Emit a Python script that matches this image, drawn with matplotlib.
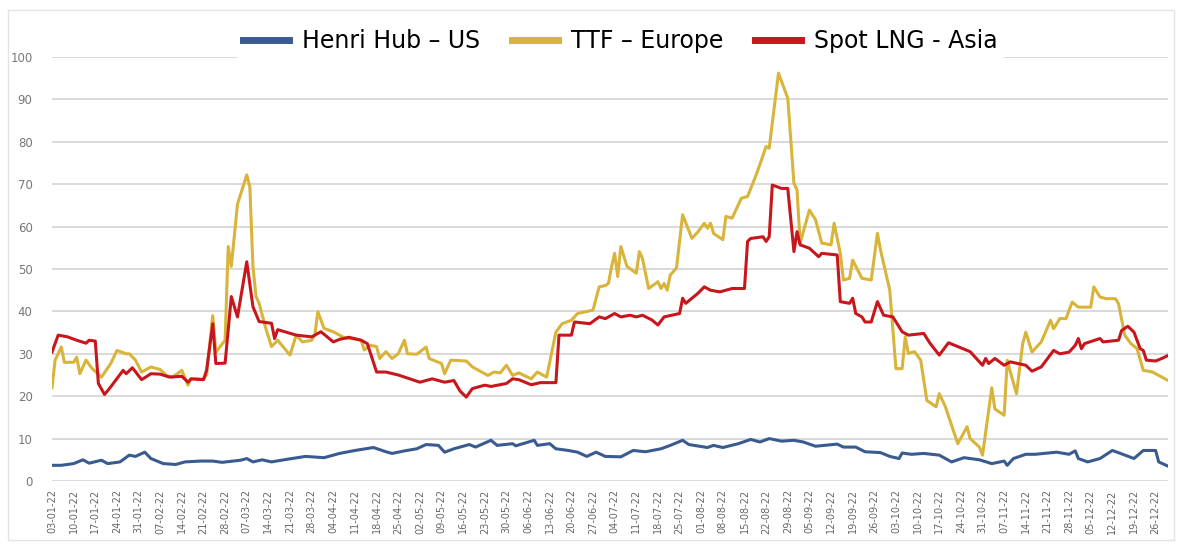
import pandas as pd
import matplotlib.pyplot as plt
import matplotlib.dates as mdates
from matplotlib.patches import Rectangle

# Henry Hub - US (USD/MMBtu)
hh_dates = ['01-03', '01-06', '01-10', '01-13', '01-15', '01-19', '01-21', '01-25', '01-28', '01-30',
            '02-02', '02-04', '02-08', '02-12', '02-15', '02-20', '02-24', '02-27', '03-05', '03-07',
            '03-09', '03-12', '03-15', '03-19', '03-26', '04-01', '04-06', '04-11', '04-17', '04-21',
            '04-23', '04-27', '05-01', '05-04', '05-08', '05-10', '05-13', '05-18', '05-20', '05-25',
            '05-27', '06-01', '06-02', '06-08', '06-09', '06-13', '06-15', '06-19', '06-22', '06-25',
            '06-28', '07-01', '07-06', '07-10', '07-14', '07-19', '07-22', '07-26', '07-28', '08-03',
            '08-05', '08-08', '08-13', '08-17', '08-20', '08-23', '08-27', '08-31', '09-03', '09-07',
            '09-14', '09-16', '09-20', '09-23', '09-28', '10-01', '10-04', '10-05', '10-08', '10-12',
            '10-17', '10-21', '10-25', '10-30', '11-03', '11-07', '11-08', '11-10', '11-14', '11-17',
            '11-24', '11-28', '11-30', '12-01', '12-04', '12-08', '12-12', '12-15', '12-19', '12-22',
            '12-26', '12-27', '12-30']
hh_values = [3.7, 3.7, 4.1, 5.0, 4.2, 4.9, 4.1, 4.5, 6.1, 5.8,
             6.8, 5.3, 4.1, 3.9, 4.5, 4.7, 4.7, 4.4, 4.9, 5.3,
             4.5, 5.0, 4.5, 5.0, 5.8, 5.5, 6.5, 7.2, 7.9, 6.9,
             6.5, 7.1, 7.6, 8.6, 8.4, 6.8, 7.6, 8.6, 8.0, 9.6,
             8.4, 8.8, 8.3, 9.6, 8.4, 8.8, 7.6, 7.2, 6.8, 5.8,
             6.8, 5.8, 5.7, 7.2, 6.9, 7.6, 8.4, 9.6, 8.6, 7.9,
             8.4, 7.9, 8.8, 9.8, 9.2, 10.0, 9.4, 9.6, 9.2, 8.2,
             8.7, 8.0, 8.0, 6.9, 6.7, 5.8, 5.3, 6.6, 6.3, 6.5,
             6.1, 4.5, 5.5, 5.0, 4.1, 4.7, 3.7, 5.3, 6.3, 6.3,
             6.8, 6.3, 7.1, 5.3, 4.5, 5.3, 7.2, 6.4, 5.3, 7.2,
             7.2, 4.5, 3.5]

# TTF - Europe
ttf_dates = ['01-03', '01-04', '01-06', '01-07', '01-10', '01-11', '01-12', '01-14', '01-16', '01-19',
             '01-22', '01-24', '01-27', '01-28', '01-30', '02-01', '02-04', '02-07', '02-09', '02-11',
             '02-14', '02-16', '02-17', '02-21', '02-22', '02-24', '02-25', '02-28', '03-01', '03-02',
             '03-04', '03-07', '03-08', '03-09', '03-10', '03-11', '03-13', '03-15', '03-17', '03-21',
             '03-23', '03-25', '03-28', '03-29', '03-30', '04-01', '04-04', '04-06', '04-08', '04-10',
             '04-13', '04-14', '04-16', '04-18', '04-19', '04-21', '04-23', '04-25', '04-27', '04-28',
             '05-01', '05-04', '05-05', '05-09', '05-10', '05-12', '05-17', '05-19', '05-24', '05-26',
             '05-28', '05-30', '06-01', '06-03', '06-07', '06-09', '06-12', '06-15', '06-17', '06-20',
             '06-22', '06-27', '06-29', '07-01', '07-02', '07-03', '07-04', '07-05', '07-06', '07-08',
             '07-11', '07-12', '07-13', '07-15', '07-18', '07-19', '07-20', '07-21', '07-22', '07-24',
             '07-26', '07-29', '07-31', '08-02', '08-03', '08-04', '08-05', '08-08', '08-09', '08-11',
             '08-14', '08-16', '08-19', '08-22', '08-23', '08-26', '08-29', '08-31', '09-01', '09-02',
             '09-05', '09-07', '09-09', '09-12', '09-13', '09-15', '09-16', '09-18', '09-19', '09-22',
             '09-25', '09-27', '09-28', '10-01', '10-03', '10-05', '10-06', '10-07', '10-09', '10-11',
             '10-13', '10-16', '10-17', '10-19', '10-23', '10-26', '10-27', '10-30', '10-31', '11-03',
             '11-04', '11-07', '11-08', '11-09', '11-11', '11-13', '11-14', '11-16', '11-19', '11-22',
             '11-23', '11-25', '11-27', '11-29', '12-01', '12-05', '12-06', '12-08', '12-10', '12-13',
             '12-14', '12-16', '12-18', '12-20', '12-22', '12-25', '12-27', '12-30']
ttf_values = [22.0, 28.5, 31.6, 28.0, 28.0, 29.2, 25.3, 28.5, 26.5, 24.5,
              27.7, 30.8, 30.0, 30.0, 28.5, 25.7, 26.9, 26.3, 24.9, 24.5,
              26.1, 22.6, 24.1, 24.0, 25.0, 39.0, 30.4, 33.2, 55.3, 50.6,
              65.3, 72.2, 69.4, 50.6, 43.5, 41.9, 36.4, 31.7, 33.2, 29.7,
              34.4, 32.8, 33.2, 34.4, 39.9, 36.0, 35.2, 34.4, 33.6, 33.6,
              33.2, 30.9, 32.0, 31.7, 28.9, 30.5, 28.9, 30.0, 33.2, 30.0,
              29.9, 31.6, 28.9, 27.7, 25.3, 28.5, 28.3, 26.9, 24.9, 25.7,
              25.5, 27.3, 24.9, 25.5, 24.1, 25.7, 24.5, 35.1, 37.1, 37.9,
              39.5, 40.3, 45.8, 46.1, 46.6, 50.5, 53.7, 48.2, 55.3, 50.6,
              49.0, 54.1, 52.5, 45.4, 47.0, 45.4, 46.6, 45.0, 48.6, 50.2,
              62.8, 57.2, 58.8, 60.8, 59.6, 60.8, 58.4, 56.9, 62.4, 62.0,
              66.7, 67.1, 72.6, 78.9, 78.5, 96.2, 90.3, 70.2, 68.7, 56.1,
              63.9, 61.6, 56.1, 55.7, 60.8, 53.7, 47.4, 47.8, 52.1, 47.8,
              47.4, 58.4, 54.5, 45.0, 26.5, 26.5, 34.0, 30.1, 30.5, 28.5,
              19.0, 17.5, 20.6, 17.5, 8.8, 12.8, 10.0, 8.0, 6.1, 22.0,
              17.0, 15.5, 28.5, 25.7, 20.6, 32.4, 35.1, 30.4, 32.8, 37.9,
              35.9, 38.3, 38.3, 42.2, 41.0, 41.0, 45.8, 43.4, 43.0, 43.0,
              41.8, 34.4, 32.4, 31.2, 26.1, 25.7, 24.9, 23.7]

# Spot LNG - Asia
lng_dates = ['01-03', '01-05', '01-08', '01-11', '01-14', '01-15', '01-17', '01-18', '01-20', '01-22',
             '01-26', '01-27', '01-29', '02-01', '02-04', '02-07', '02-10', '02-14', '02-16', '02-17',
             '02-21', '02-22', '02-24', '02-25', '02-28', '03-02', '03-04', '03-07', '03-09', '03-11',
             '03-15', '03-16', '03-17', '03-23', '03-28', '03-31', '04-04', '04-06', '04-09', '04-13',
             '04-15', '04-18', '04-21', '04-25', '04-30', '05-02', '05-06', '05-10', '05-13', '05-15',
             '05-17', '05-19', '05-23', '05-25', '05-30', '06-01', '06-03', '06-07', '06-10', '06-15',
             '06-16', '06-20', '06-21', '06-26', '06-29', '07-01', '07-04', '07-06', '07-09', '07-11',
             '07-13', '07-16', '07-18', '07-20', '07-25', '07-26', '07-27', '07-31', '08-02', '08-04',
             '08-07', '08-11', '08-15', '08-16', '08-17', '08-21', '08-22', '08-23', '08-24', '08-27',
             '08-29', '08-31', '09-01', '09-02', '09-05', '09-08', '09-09', '09-14', '09-15', '09-18',
             '09-19', '09-20', '09-22', '09-23', '09-25', '09-27', '09-29', '10-02', '10-05', '10-07',
             '10-12', '10-14', '10-17', '10-20', '10-27', '10-31', '11-01', '11-02', '11-04', '11-07',
             '11-09', '11-14', '11-16', '11-19', '11-23', '11-25', '11-28', '11-30', '12-01', '12-02',
             '12-03', '12-08', '12-09', '12-14', '12-15', '12-17', '12-19', '12-21', '12-22', '12-23',
             '12-26', '12-28', '12-30']
lng_values = [30.4, 34.4, 34.0, 33.2, 32.5, 33.2, 33.0, 23.0, 20.4, 22.2,
              26.1, 25.3, 26.7, 23.9, 25.3, 25.2, 24.5, 24.7, 23.3, 24.1,
              23.9, 26.1, 37.1, 27.7, 27.8, 43.5, 38.7, 51.7, 41.1, 37.6,
              37.2, 33.6, 35.7, 34.4, 34.0, 35.2, 32.8, 33.4, 33.9, 33.2,
              32.4, 25.7, 25.7, 25.0, 23.8, 23.3, 24.1, 23.3, 23.7, 21.2,
              19.8, 21.8, 22.6, 22.3, 23.0, 24.1, 23.9, 22.7, 23.2, 23.2,
              34.4, 34.4, 37.5, 37.1, 38.7, 38.3, 39.5, 38.7, 39.1, 38.7,
              39.1, 38.0, 36.8, 38.7, 39.5, 43.1, 41.9, 44.3, 45.8, 45.0,
              44.6, 45.4, 45.4, 56.5, 57.2, 57.6, 56.5, 57.6, 69.8, 69.0,
              69.0, 54.1, 58.8, 55.7, 54.9, 52.9, 53.7, 53.3, 42.3, 41.9,
              43.1, 39.5, 38.7, 37.5, 37.5, 42.3, 39.1, 38.7, 35.2, 34.4,
              34.8, 32.5, 29.7, 32.6, 30.5, 27.3, 28.9, 27.7, 28.9, 27.3,
              28.1, 27.3, 25.9, 26.9, 30.8, 30.0, 30.4, 32.0, 33.6, 31.2,
              32.4, 33.6, 32.8, 33.2, 35.5, 36.5, 35.1, 31.2, 30.8, 28.5,
              28.3, 28.9, 29.6]

series = [
    ('Henri Hub – US', hh_dates, hh_values, '#3A5B8F'),
    ('TTF – Europe', ttf_dates, ttf_values, '#D9B43B'),
    ('Spot LNG - Asia', lng_dates, lng_values, '#C8161D'),
]

fig = plt.figure(figsize=(11.82, 5.44), dpi=100)
ax = fig.add_axes([52 / 1182, 1 - 481 / 544, 1116 / 1182, 424 / 544])

for name, dates, values, color in series:
    x = pd.to_datetime(['2022-' + d for d in dates])
    ax.plot(x, values, color=color, lw=2.2, label=name, solid_joinstyle='round')

ax.set_ylim(0, 100)
ax.set_yticks(range(0, 101, 10))
ax.set_xlim(pd.Timestamp('2022-01-03'), pd.Timestamp('2022-12-30'))
ticks = pd.date_range('2022-01-03', '2022-12-26', freq='7D')
ax.set_xticks(ticks)
ax.xaxis.set_major_formatter(mdates.DateFormatter('%d-%m-%y'))
ax.tick_params(axis='x', labelrotation=90, labelsize=7, colors='#666666', length=0, pad=6)
ax.tick_params(axis='y', labelsize=8.5, colors='#777777', length=0, pad=14)
ax.grid(axis='y', color='#d9d9d9', lw=1.4)
ax.set_axisbelow(True)
for s in ax.spines.values():
    s.set_visible(False)

leg = fig.legend(loc='center', bbox_to_anchor=(620 / 1182, 1 - 41 / 544), ncol=3,
                 fontsize=17, frameon=True, handlelength=1.95, handletextpad=0.55,
                 columnspacing=1.35, borderpad=0.25)
leg.get_frame().set_facecolor('white')
leg.get_frame().set_edgecolor('white')
leg.get_frame().set_alpha(1)
for line in leg.get_lines():
    line.set_linewidth(5)

fig.patches.append(Rectangle((8 / 1182, 4 / 544), 1166 / 1182, 530 / 544, transform=fig.transFigure,
                             fill=False, edgecolor='#e3e3e3', lw=1))

fig.savefig('out.png', dpi=100)
